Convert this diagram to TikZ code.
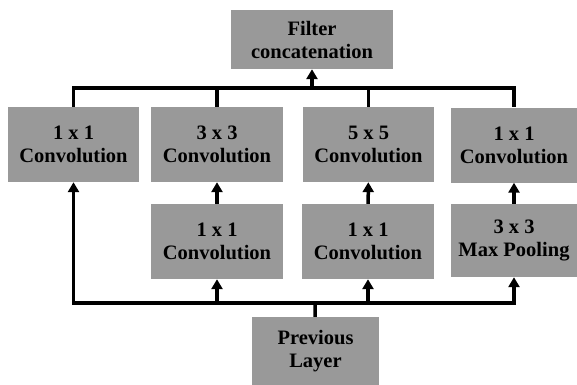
\documentclass[tikz,border=0pt]{standalone}
\usepackage{fontspec}
\setmainfont{Liberation Serif}
\usetikzlibrary{arrows.meta}
\definecolor{boxgray}{RGB}{153,153,153}
\begin{document}
\begin{tikzpicture}[
  x=1pt,y=-1pt,
  every node/.style={fill=boxgray,inner sep=0pt,align=center,
   font=\bfseries\fontsize{20.5}{23}\selectfont},
  layer/.style={minimum width=131pt,minimum height=75pt},
  link/.style={line width=3.5pt},
  feed/.style={link,-{Triangle[width=11pt,length=10pt]}}
  ]
  \useasboundingbox (0,0) rectangle (577,384);
  \node[minimum width=162pt,minimum height=59pt] (concat) at (312,39.5) {Filter\\concatenation};

  \node[layer] (C1) at (73.5,144.5) {1 x 1\\Convolution};
  \node[layer,minimum width=132pt] (C3) at (217,144.5) {3 x 3\\Convolution};
  \node[layer] (C5) at (368.5,144.5) {5 x 5\\Convolution};
  \node[layer,minimum width=126pt] (CP) at (514,145) {1 x 1\\Convolution};

  \node[layer,minimum width=132pt] (R3) at (217,241.5) {1 x 1\\Convolution};
  \node[layer,minimum width=132pt] (R5) at (368,241.5) {1 x 1\\Convolution};
  \node[layer,minimum width=126pt,minimum height=73pt] (MP) at (514,240.5) {3 x 3\\Max Pooling};

  \node[minimum width=127pt,minimum height=69pt] (prev) at (315.5,351.5) {Previous\\Layer};

  \coordinate (top) at (312,88);
  \coordinate (bot) at (315,303);

  \draw[link] (C1.north) |- (top) -| (CP.north);
  \draw[link] (C3.north) -- (C3.north |- top);
  \draw[link] (C5.north) -- (C5.north |- top);
  \draw[feed] (top) -- (concat);

  \draw[feed] (R3) -- (C3);
  \draw[feed] (R5) -- (C5);
  \draw[feed] (MP) -- (CP);

  \draw[link] (prev) -- (bot);
  \draw[feed] (bot) -| (C1.south);
  \draw[feed] (bot) -| (MP.south);
  \draw[feed] (R3.south |- bot) -- (R3);
  \draw[feed] (R5.south |- bot) -- (R5);
 \end{tikzpicture}
\end{document}
